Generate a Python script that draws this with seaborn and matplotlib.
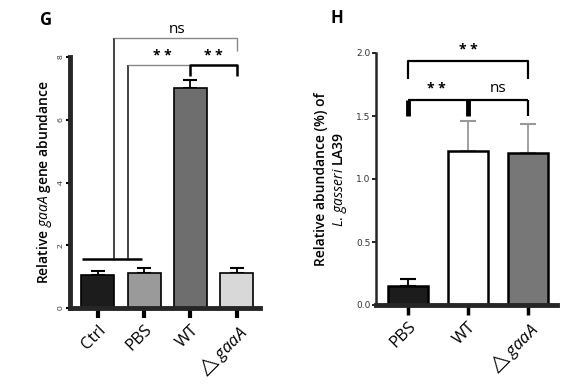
import numpy as np
import matplotlib
matplotlib.use("Agg")
import matplotlib.pyplot as plt
import seaborn as sns

# panel G data
g_groups = ["Ctrl", "PBS", "WT", "dgaaA"]
g_labels = ["Ctrl", "PBS", "WT", r"$\triangle\mathit{gaaA}$"]
g_means = [1.05, 1.10, 7.02, 1.12]
g_err = [0.13, 0.17, 0.26, 0.15]
g_colors = ["#1c1c1c", "#9a9a9a", "#6e6e6e", "#d8d8d8"]

# panel H data
h_groups = ["PBS", "WT", "dgaaA"]
h_labels = ["PBS", "WT", r"$\triangle\mathit{gaaA}$"]
h_means = [0.15, 1.22, 1.21]
h_err = [0.06, 0.24, 0.23]
h_colors = ["#1c1c1c", "#ffffff", "#777777"]

sns.set_theme(style="ticks")
plt.rcParams["font.family"] = ["Open Sans", "DejaVu Sans"]
plt.rcParams["mathtext.fontset"] = "custom"
plt.rcParams["mathtext.rm"] = "Open Sans"
plt.rcParams["mathtext.it"] = "Open Sans:italic"
plt.rcParams["text.color"] = "black"
plt.rcParams["axes.labelcolor"] = "black"
plt.rcParams["xtick.color"] = "black"
plt.rcParams["ytick.color"] = "black"

fig = plt.figure(figsize=(5.74, 3.89), dpi=100)
axg = fig.add_axes([70 / 574, 1 - 308 / 389, 190 / 574, 251 / 389])
axh = fig.add_axes([376 / 574, 1 - 305 / 389, 181 / 574, 252 / 389])

# ---- G ----
sns.barplot(x=g_groups, y=g_means, hue=g_groups, palette=g_colors, legend=False,
            ax=axg, width=0.71, edgecolor="black", linewidth=1.2, zorder=2)
axg.errorbar(range(len(g_means)), g_means, yerr=[np.zeros(len(g_err)), g_err],
             fmt="none", ecolor="black", elinewidth=1.3, capsize=5, capthick=1.5, zorder=1)
axg.set_xlim(-0.6, 3.5)
axg.set_ylim(0, 8)
axg.set_yticks([0, 2, 4, 6, 8])
axg.set_yticklabels(["0", "2", "4", "6", "8"], rotation=90, va="center", fontsize=6, color="#333")
axg.set_xticks(range(4))
axg.set_xticklabels(g_labels, rotation=45, ha="right", rotation_mode="anchor", fontsize=12)
axg.tick_params(axis="x", width=3, length=7, pad=3)
axg.tick_params(axis="y", width=1.5, length=3, pad=1)
sns.despine(ax=axg)
axg.spines["left"].set_linewidth(3.5)
axg.spines["bottom"].set_linewidth(3.5)
axg.set_ylabel(r"Relative $\mathit{gaaA}$ gene abundance", fontsize=10, fontweight="semibold")
axg.yaxis.set_label_coords(-0.085, 0.5)

lk = dict(clip_on=False, solid_capstyle="butt")
axg.plot([-0.35, 0.95], [1.56, 1.56], color="black", lw=1.8, **lk)
axg.plot([0.35, 0.35], [1.56, 8.6], color="#222", lw=1.2, **lk)
axg.plot([0.35, 3.0, 3.0], [8.6, 8.6, 8.2], color="#888", lw=1.0, **lk)
axg.plot([0.65, 0.65], [1.56, 7.74], color="#222", lw=1.2, **lk)
axg.plot([0.65, 2.0], [7.74, 7.74], color="#888", lw=1.0, **lk)
axg.plot([2.0, 2.0, 3.0, 3.0], [7.4, 7.74, 7.74, 7.4], color="black", lw=1.8, **lk)
axg.text(1.7, 8.65, "ns", ha="center", va="bottom", fontsize=11, clip_on=False)
axg.text(1.4, 7.8, "* *", ha="center", va="bottom", fontsize=10, fontweight="bold", clip_on=False)
axg.text(2.5, 7.8, "* *", ha="center", va="bottom", fontsize=10, fontweight="bold", clip_on=False)
fig.text(40 / 574, 1 - 20 / 389, "G", fontsize=12, fontweight="bold", va="center")

# ---- H ----
sns.barplot(x=h_groups, y=h_means, hue=h_groups, palette=h_colors, legend=False,
            ax=axh, width=0.67, edgecolor="black", linewidth=1.8, zorder=2)
axh.errorbar(range(len(h_means)), h_means, yerr=[np.zeros(len(h_err)), h_err],
             fmt="none", ecolor="#999", elinewidth=1.3, capsize=6, capthick=1.5, zorder=1)
axh.errorbar([0], [h_means[0]], yerr=[[0], [h_err[0]]],
             fmt="none", ecolor="black", elinewidth=1.3, capsize=6, capthick=1.5, zorder=1)
axh.set_xlim(-0.53, 2.48)
axh.set_ylim(0, 2.0)
axh.set_yticks([0, 0.5, 1.0, 1.5, 2.0])
axh.set_yticklabels(["0.0", "0.5", "1.0", "1.5", "2.0"], fontsize=6.5, color="#333",
                    family=["Liberation Sans Narrow", "DejaVu Sans"])
axh.set_xticks(range(3))
axh.set_xticklabels(h_labels, rotation=45, ha="right", rotation_mode="anchor", fontsize=12)
axh.tick_params(axis="x", width=2.5, length=7, pad=3)
axh.tick_params(axis="y", width=1.2, length=3, pad=1)
sns.despine(ax=axh)
axh.spines["left"].set_linewidth(1.8)
axh.spines["bottom"].set_linewidth(3.5)
axh.set_ylabel("Relative abundance (%) of\n" + r"$\mathit{L.}\,\mathit{gasseri}$ LA39",
               fontsize=10, fontweight="semibold", linespacing=1.25)
axh.yaxis.set_label_coords(-0.15, 0.5)

axh.plot([0, 0, 2, 2], [1.79, 1.94, 1.94, 1.79], color="black", lw=1.6, **lk)
axh.plot([0, 2], [1.63, 1.63], color="black", lw=1.6, **lk)
axh.plot([0, 0], [1.5, 1.63], color="black", lw=3.5, **lk)
axh.plot([1, 1], [1.5, 1.63], color="black", lw=3.5, **lk)
axh.plot([2, 2], [1.5, 1.63], color="black", lw=1.6, **lk)
axh.text(1.0, 1.97, "* *", ha="center", va="bottom", fontsize=10, fontweight="bold", clip_on=False)
axh.text(0.48, 1.66, "* *", ha="center", va="bottom", fontsize=10, fontweight="bold", clip_on=False)
axh.text(1.5, 1.66, "ns", ha="center", va="bottom", fontsize=11, clip_on=False)
fig.text(330 / 574, 1 - 18 / 389, "H", fontsize=12, fontweight="bold", va="center")

fig.savefig("out.png", dpi=100, facecolor="white")
